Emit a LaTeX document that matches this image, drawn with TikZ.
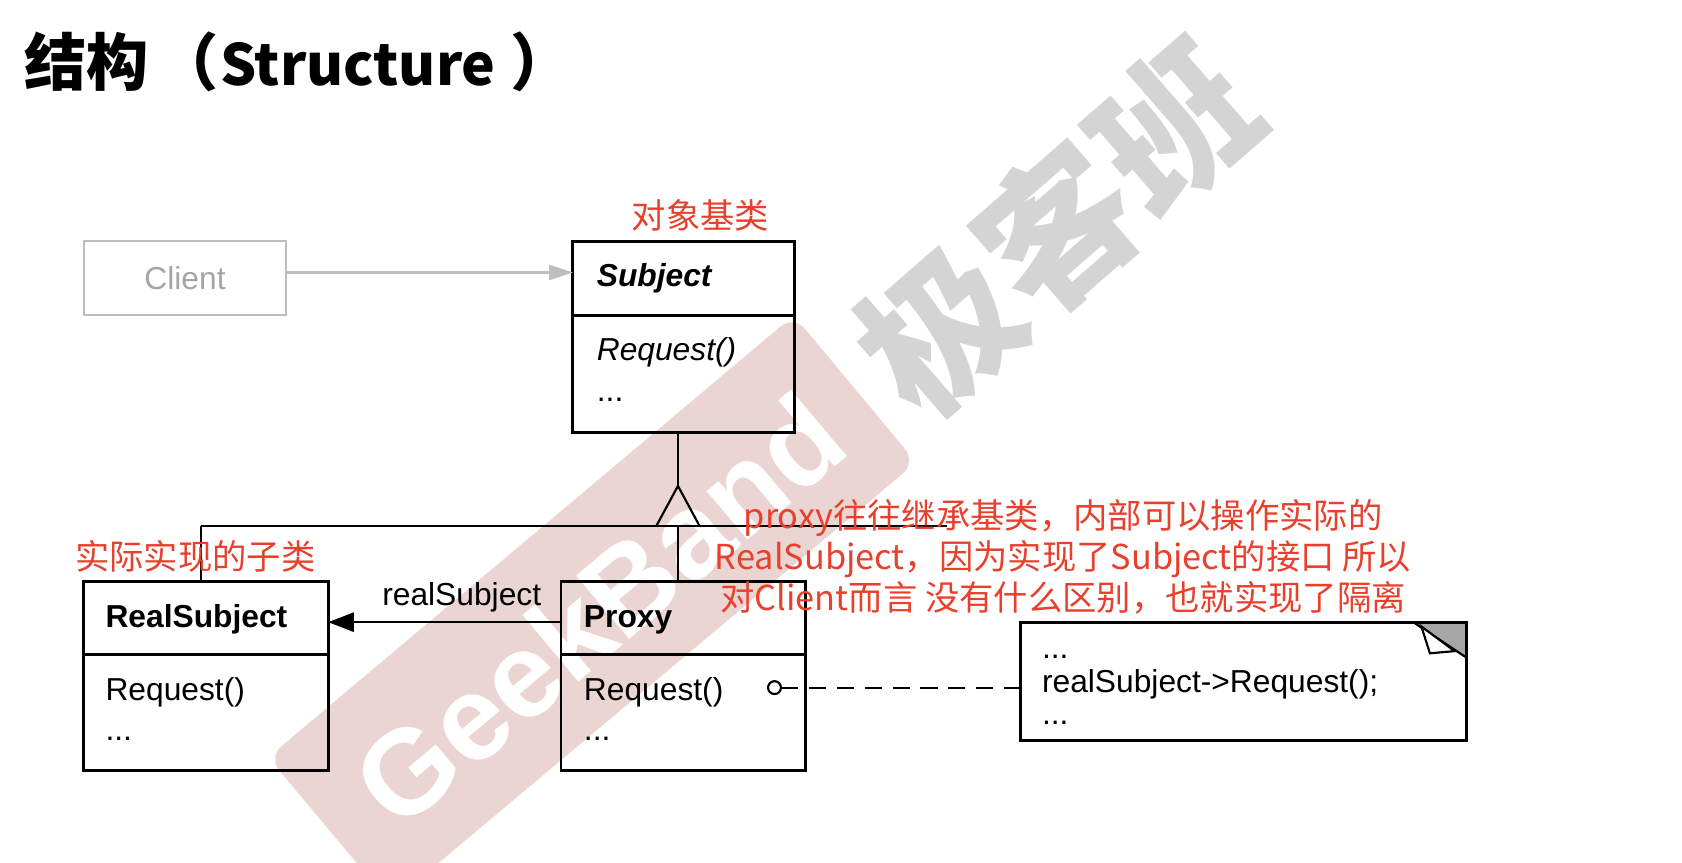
\documentclass[tikz,border=0pt]{standalone}
\usepackage{fontspec}
\setmainfont{Liberation Sans}
\newfontfamily\cjk{Noto Sans CJK SC}
\usetikzlibrary{arrows.meta}
\definecolor{redtxt}{RGB}{232,64,44}
\definecolor{wmpink}{RGB}{235,213,211}
\definecolor{wmgray}{RGB}{212,212,212}
\definecolor{clientgray}{RGB}{190,190,190}
\definecolor{clienttxt}{RGB}{165,165,165}
\newcommand\umlfont{\fontsize{14.8pt}{17pt}\selectfont}
\begin{document}
\begin{tikzpicture}[x=0.5pt,y=-0.5pt,
  umlbox/.style={draw=black, line width=1.3pt, inner sep=0pt, outer sep=0pt, minimum width=114pt},
  umltext/.style={anchor=base west, inner sep=0pt, font=\umlfont},
  redlabel/.style={text=redtxt, inner sep=0pt, font=\cjk\fontsize{16pt}{19pt}\selectfont},
  conn/.style={line width=1pt, draw=black},
]
\useasboundingbox (0,0) rectangle (1568,804);
\clip (0,0) rectangle (1568,804);
% watermark
\fill[wmpink, rounded corners=8pt] (740,294) -- (854,431) -- (364,842) -- (250,706) -- cycle;
\node[rotate=40, text=white, font=\bfseries\fontsize{56pt}{56pt}\selectfont, inner sep=0pt] (wmtext) at (558,568) {GeekBand};
\node[rotate=41, text=wmgray, font=\cjk\bfseries\fontsize{72pt}{72pt}\selectfont, inner sep=0pt] (wmcn) at (985,212) {极客班};

% title
\node[anchor=west, inner sep=0pt, font=\cjk\bfseries\fontsize{29pt}{30pt}\selectfont] (title) at (22,58) {结构\hspace{4pt}（\hspace{0.5pt}{\fontsize{26.5pt}{30pt}\selectfont Structure}\hspace{7pt}）};

% client
\node[draw=clientgray, line width=1pt, outer sep=0pt, minimum width=94.5pt, minimum height=34.5pt, inner sep=0pt, text=clienttxt, font=\umlfont] (client) at (172.5,259.5) {Client};

% subject
\node[umlbox, minimum width=103.5pt, minimum height=34.5pt] (subject) at (637.5,259.5) {};
\node[umlbox, minimum width=103.5pt, minimum height=54.5pt, anchor=north] (subjectbody) at (subject.south) {};
\node[umltext, font=\umlfont\bfseries\itshape] (subjectname) at (556,267) {Subject};
\node[umltext, font=\umlfont\itshape] (subjectop) at (556,336) {Request()};
\node[umltext] (subjectdots) at (556,374) {...};

% real subject
\node[umlbox, minimum height=34pt] (realsubject) at (192,576) {};
\node[umlbox, minimum height=54pt, anchor=north] (realbody) at (realsubject.south) {};
\node[umltext, font=\umlfont\bfseries] (realname) at (98,585) {RealSubject};
\node[umltext] (realop) at (98,653) {Request()};
\node[umltext] (realdots) at (98,690) {...};

% proxy
\node[umlbox, minimum height=34pt] (proxy) at (637,576) {};
\node[umlbox, minimum height=54pt, anchor=north] (proxybody) at (proxy.south) {};
\node[umltext, font=\umlfont\bfseries] (proxyname) at (544,585) {Proxy};
\node[umltext] (proxyop) at (544,653) {Request()};
\node[umltext] (proxydots) at (544,690) {...};

% note
\node[draw=black, line width=1.3pt, outer sep=0pt, minimum width=208pt, minimum height=55pt, inner sep=0pt] (note) at (1159,635) {};
\fill[black!35] (1319,581) -- (1367,581) -- (1367,613) -- cycle;
\draw[line width=1pt] (1319,581) -- (1367,613);
\draw[line width=1pt, fill=white] (1325,584) -- (1333,609) -- (1356,607) -- cycle;
\draw[line width=1.3pt] (note.north west) rectangle (note.south east);
\node[umltext] (notedots1) at (971,614) {...};
\node[umltext] (notecode) at (971,646) {realSubject->Request();};
\node[umltext] (notedots2) at (971,675) {...};

% connectors
\draw[clientgray, line width=1pt, -{Triangle[length=11pt,width=7pt]}] ([yshift=2.75pt]client.east) -- ([yshift=2.75pt]subject.west);

\coordinate (apex) at (632,453);
\coordinate (triL) at (612,490);
\coordinate (triR) at (652,490);
\coordinate (barL) at (187,490);
\coordinate (barR) at (883,490);
\coordinate (junc) at (632,490);
\draw[conn] (subjectbody.south -| apex) -- (apex);
\draw[conn] (triL) -- (apex) -- (triR);
\draw[conn] (barL) -- (barR);
\draw[conn] (barL) -- (barL |- realsubject.north);
\draw[conn] (junc) -- (junc |- proxy.north);

\draw[conn, -{Triangle[length=12pt,width=9pt]}] ([yshift=-2pt]proxy.west) -- ([yshift=-2pt]realsubject.east);
\node[umltext] (assoclabel) at (356,564) {realSubject};

\node[circle, draw=black, line width=1pt, outer sep=0pt, minimum size=6pt, inner sep=0pt] (dot) at (722,641) {};
\draw[conn, dash pattern=on 8pt off 5pt] (dot.east) -- (note.west |- dot);

% red annotations
\node[redlabel] (lblsubject) at (653,201) {对象基类};
\node[redlabel] (lblreal) at (182,519) {实际实现的子类};
\node[redlabel, align=center] (lblproxy) at (991,519) {proxy往往继承基类，内部可以操作实际的\\RealSubject，因为实现了Subject的接口 所以\\对Client而言 没有什么区别，也就实现了隔离};
\end{tikzpicture}
\end{document}
